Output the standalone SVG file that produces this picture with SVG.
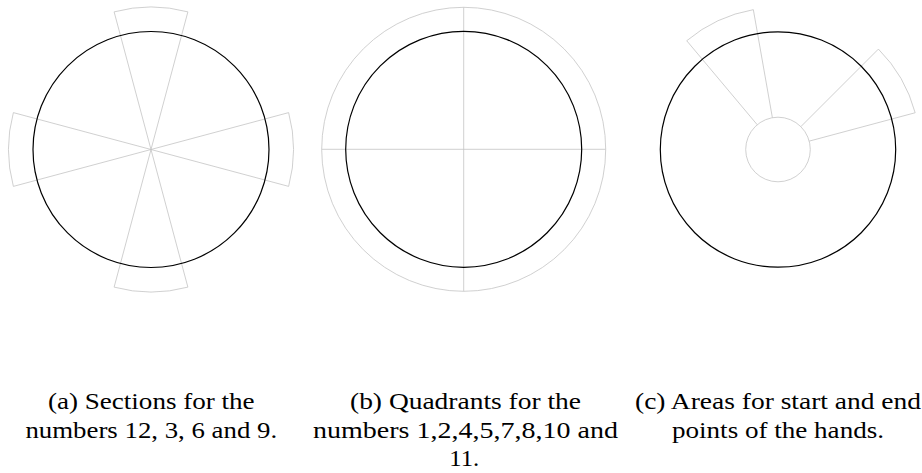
<svg xmlns="http://www.w3.org/2000/svg" width="922" height="473" viewBox="0 0 922 473">
  <style>
    .g { fill: none; stroke: #c4c4c4; stroke-width: 0.8; }
    .k { fill: none; stroke: #000000; stroke-width: 1.2; }
    .cap { font-family: 'Liberation Serif', 'DejaVu Serif', serif; font-size: 24px; fill: #000000; text-anchor: middle; }
  </style>
  <rect x="0" y="0" width="922" height="473" fill="#ffffff"/>

  <g id="panel-a">
    <g id="a-sections">
      <path class="g" d="M114.12,11.86 L187.88,287.14 M187.88,11.86 L114.12,287.14 M288.64,112.62 L13.36,186.38 M288.64,186.38 L13.36,112.62"/>
      <path class="g" d="M114.12,11.86 A142.5,142.5 0 0 1 187.88,11.86"/>
      <path class="g" d="M288.64,112.62 A142.5,142.5 0 0 1 288.64,186.38"/>
      <path class="g" d="M187.88,287.14 A142.5,142.5 0 0 1 114.12,287.14"/>
      <path class="g" d="M13.36,186.38 A142.5,142.5 0 0 1 13.36,112.62"/>
    </g>
    <circle id="a-clock" class="k" cx="151" cy="149.5" r="118"/>
    <g id="a-caption">
      <text class="cap" x="151.3" y="409" textLength="206.7" lengthAdjust="spacingAndGlyphs">(a) Sections for the</text>
      <text class="cap" x="151.3" y="437.5" textLength="251.7" lengthAdjust="spacingAndGlyphs">numbers 12, 3, 6 and 9.</text>
    </g>
  </g>

  <g id="panel-b">
    <g id="b-quadrants">
      <circle class="g" cx="463.7" cy="149.3" r="142"/>
      <path class="g" d="M321.7,149.3 L605.7,149.3 M463.7,7.3 L463.7,291.3"/>
    </g>
    <circle id="b-clock" class="k" cx="463.7" cy="149.3" r="118"/>
    <g id="b-caption">
      <text class="cap" x="465.5" y="409" textLength="231" lengthAdjust="spacingAndGlyphs">(b) Quadrants for the</text>
      <text class="cap" x="465.5" y="437.5" textLength="305" lengthAdjust="spacingAndGlyphs">numbers 1,2,4,5,7,8,10 and</text>
      <text class="cap" x="464.3" y="466" textLength="30" lengthAdjust="spacingAndGlyphs">11.</text>
    </g>
  </g>

  <g id="panel-c">
    <g id="c-areas">
      <circle class="g" cx="778" cy="149.5" r="32.3"/>
      <path class="g" d="M757.24,124.76 L686.72,40.72 A142,142 0 0 1 753.34,9.66 L772.39,117.69"/>
      <path class="g" d="M800.84,126.66 L878.41,49.09 A142,142 0 0 1 915.16,112.75 L809.2,141.14"/>
    </g>
    <circle id="c-clock" class="k" cx="778" cy="149.5" r="117.7"/>
    <g id="c-caption">
      <text class="cap" x="778" y="409" textLength="286" lengthAdjust="spacingAndGlyphs">(c) Areas for start and end</text>
      <text class="cap" x="778" y="437.5" textLength="212" lengthAdjust="spacingAndGlyphs">points of the hands.</text>
    </g>
  </g>
</svg>
